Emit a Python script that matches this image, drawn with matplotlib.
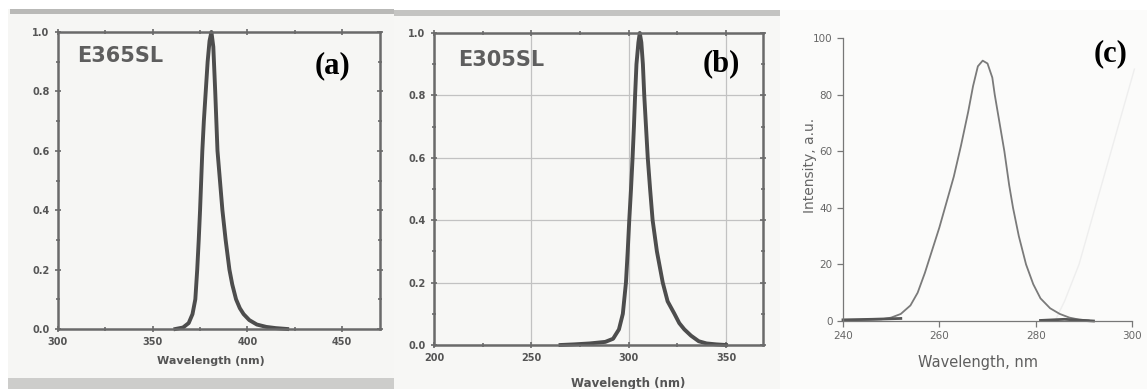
import matplotlib
matplotlib.use("Agg")

import matplotlib.pyplot as plt
import matplotlib.patches as mpatches
from matplotlib.ticker import MultipleLocator, AutoMinorLocator

# ── LED E365SL emission spectrum (normalised) ────────────────
A_WAVE = [362, 366, 369, 371, 372.5, 373.5, 374.3, 375, 375.6, 376.2, 377, 378,
          379, 380, 381, 382, 383, 384.2, 385.5, 386.8, 388.5, 390.5, 392, 394,
          396, 398, 401, 405, 410, 415, 421]
A_INT = [0.0, 0.005, 0.02, 0.05, 0.1, 0.2, 0.3, 0.4, 0.5, 0.6, 0.7, 0.8,
         0.9, 0.97, 1.0, 0.95, 0.8, 0.6, 0.5, 0.4, 0.3, 0.2, 0.15, 0.1,
         0.07, 0.05, 0.03, 0.015, 0.007, 0.003, 0.0]

# ── LED E305SL emission spectrum (normalised) ────────────────
B_WAVE = [265, 272, 280, 288, 292, 295, 297, 298.6, 299.5, 300.3, 301.2, 302,
          302.7, 303.3, 304, 305, 305.7, 306.5, 307.3, 308, 308.9, 309.8, 311,
          312.3, 314.5, 317.5, 320, 323.5, 326, 328.6, 332, 336, 340, 345, 350]
B_INT = [0.0, 0.002, 0.005, 0.01, 0.02, 0.05, 0.1, 0.2, 0.3, 0.4, 0.5, 0.6,
         0.7, 0.8, 0.9, 0.97, 1.0, 0.97, 0.9, 0.8, 0.7, 0.6, 0.5,
         0.4, 0.3, 0.2, 0.14, 0.1, 0.07, 0.05, 0.03, 0.012, 0.005, 0.002, 0.0]

# ── Emission spectrum, intensity in a.u. ─────────────────────
C_WAVE = [240, 244, 248, 250, 252, 254, 255.5, 257, 258.5, 260, 261.5, 263,
          264.5, 266, 267, 268, 269, 270, 271, 271.5, 272.5, 273.5, 274.5,
          275.3, 276.5, 278, 279.5, 281, 283, 285, 287, 289, 291]
C_INT = [0.3, 0.4, 0.6, 1.2, 2.5, 5.5, 10, 17, 25, 33, 42, 51,
         62, 74, 83, 90, 92, 91, 86, 80, 70, 60, 48,
         40, 30, 20, 13, 8, 4.5, 2.5, 1.2, 0.5, 0.2]

# faint second trace rising at the long-wavelength end
C2_WAVE = [284, 286, 289, 292, 295, 298, 300.5]
C2_INT = [0, 7, 20, 38, 56, 74, 89]

# dark baseline pieces lying on the x axis
C3_WAVE_L = [240, 246, 252]
C3_INT_L = [0.4, 0.6, 0.9]
C3_WAVE_R = [281, 286, 292]
C3_INT_R = [0.2, 0.6, 0.0]

W, H = 1147, 389
fig = plt.figure(figsize=(W / 100, H / 100), dpi=100)
fig.patch.set_facecolor("white")


def px_axes(left, top, right, bottom):
    return fig.add_axes([left / W, 1 - bottom / H, (right - left) / W, (bottom - top) / H])


def px_rect(x0, y0, x1, y1, color):
    fig.patches.append(mpatches.Rectangle((x0 / W, 1 - y1 / H), (x1 - x0) / W, (y1 - y0) / H,
                                          transform=fig.transFigure, facecolor=color,
                                          edgecolor="none", zorder=-5))


# scanned page backgrounds
px_rect(8, 9, 394, 389, "#f6f6f4")
px_rect(394, 10, 780, 389, "#f7f7f5")
px_rect(780, 10, 1147, 389, "#fbfbfa")
px_rect(10, 9, 394, 14, "#b9b9b7")
px_rect(394, 10, 780, 16, "#c4c4c2")
px_rect(8, 378, 394, 389, "#cdcdcb")

SPINE = "#6a6a6a"
CURVE = "#4d4d4d"
TICKTXT = "#555555"


def style_led(ax, xlim, xstep):
    ax.set_facecolor("none")
    ax.set_xlim(*xlim)
    ax.set_ylim(0, 1.0)
    ax.xaxis.set_major_locator(MultipleLocator(xstep))
    ax.yaxis.set_major_locator(MultipleLocator(0.2))
    ax.xaxis.set_minor_locator(AutoMinorLocator(2))
    ax.yaxis.set_minor_locator(AutoMinorLocator(2))
    for s in ax.spines.values():
        s.set_color(SPINE)
        s.set_linewidth(1.8)
    ax.tick_params(which="both", direction="inout", color=SPINE, top=True, right=True,
                   labelsize=7, labelcolor=TICKTXT, width=1.2)
    ax.tick_params(which="major", length=5)
    ax.tick_params(which="minor", length=3)
    ax.yaxis.set_major_formatter(plt.FormatStrFormatter("%.1f"))
    for lab in ax.get_xticklabels() + ax.get_yticklabels():
        lab.set_fontweight("bold")


# ── (a) ──────────────────────────────────────────────────────
ax_a = px_axes(58, 32, 380, 329)
style_led(ax_a, (300, 470), 50)
ax_a.plot(A_WAVE, A_INT, color=CURVE, lw=2.8, solid_joinstyle="round", clip_on=False)
ax_a.text(0.059, 0.92, "E365SL", transform=ax_a.transAxes, family="DejaVu Sans",
          fontweight="bold", fontsize=15, color="#5e5e5e", va="center")
ax_a.text(0.854, 0.886, "(a)", transform=ax_a.transAxes, family="Liberation Serif",
          fontweight="bold", fontsize=22, color="black", ha="center", va="center")
fig.text(211 / W, 1 - 361 / H, "Wavelength (nm)", ha="center", va="center",
         fontsize=8, color=TICKTXT, fontweight="bold")

# ── (b) ──────────────────────────────────────────────────────
ax_b = px_axes(434, 33, 763, 345)
style_led(ax_b, (200, 369), 50)
ax_b.grid(True, which="major", color="#c2c2c2", lw=0.9)
ax_b.set_axisbelow(True)
ax_b.plot(B_WAVE, B_INT, color=CURVE, lw=2.8, solid_joinstyle="round", clip_on=False)
ax_b.text(0.073, 0.913, "E305SL", transform=ax_b.transAxes, family="DejaVu Sans",
          fontweight="bold", fontsize=15, color="#5e5e5e", va="center")
ax_b.text(0.872, 0.90, "(b)", transform=ax_b.transAxes, family="Liberation Serif",
          fontweight="bold", fontsize=22, color="black", ha="center", va="center")
fig.text(628 / W, 1 - 383 / H, "Wavelength (nm)", ha="center", va="center",
         fontsize=8.5, color=TICKTXT, fontweight="bold")

# ── (c) ──────────────────────────────────────────────────────
ax_c = px_axes(843, 38, 1132, 321)
ax_c.set_facecolor("none")
ax_c.set_xlim(240, 300)
ax_c.set_ylim(0, 100)
ax_c.xaxis.set_major_locator(MultipleLocator(20))
ax_c.yaxis.set_major_locator(MultipleLocator(20))
ax_c.spines["top"].set_visible(False)
ax_c.spines["right"].set_visible(False)
for s in ("left", "bottom"):
    ax_c.spines[s].set_color("#777777")
    ax_c.spines[s].set_linewidth(0.9)
ax_c.tick_params(direction="out", length=4, width=0.9, color="#777777",
                 labelsize=7.5, labelcolor="#666666")
ax_c.plot(C2_WAVE, C2_INT, color="#eeeeee", lw=1.0, clip_on=False)
ax_c.plot(C_WAVE, C_INT, color="#7a7a7a", lw=1.3, clip_on=False)
ax_c.plot(C3_WAVE_L, C3_INT_L, color="#555555", lw=2.0, clip_on=False)
ax_c.plot(C3_WAVE_R, C3_INT_R, color="#555555", lw=2.0, clip_on=False)
ax_c.set_ylabel("Intensity, a.u.", fontsize=10, color="#666666")
ax_c.yaxis.set_label_coords(-0.09, 0.548)
ax_c.set_xlabel("Wavelength, nm", fontsize=10.5, color="#5e5e5e")
ax_c.xaxis.set_label_coords(0.467, -0.12)
ax_c.text(0.986, 0.943, "(c)", transform=ax_c.transAxes, family="Liberation Serif",
          fontweight="bold", fontsize=22, color="black", ha="right", va="center")

fig.savefig("out.png", dpi=100)
